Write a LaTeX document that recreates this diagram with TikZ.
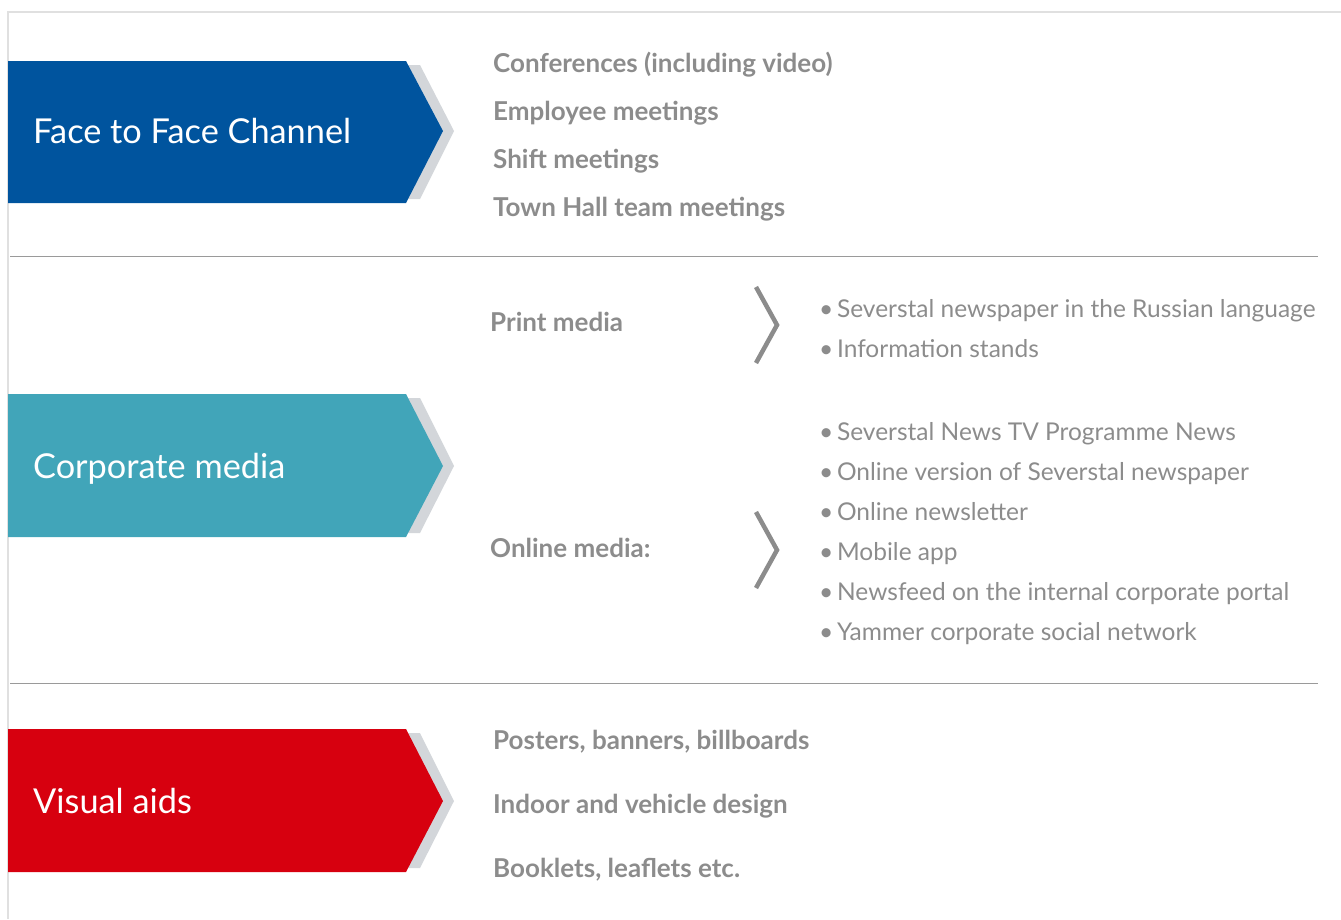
\documentclass[tikz,border=0pt]{standalone}
\usepackage{fontspec}
\setmainfont{Lato}
\definecolor{ffblue}{HTML}{00549E}
\definecolor{cmteal}{HTML}{41A5B9}
\definecolor{vared}{HTML}{D7000F}
\definecolor{shadowgrey}{HTML}{D3D6DA}
\definecolor{txtgrey}{HTML}{8C8C8C}
\definecolor{framegrey}{HTML}{E0E0E0}
\definecolor{divgrey}{HTML}{9A9A9A}
\tikzset{
  boxtext/.style={anchor=base west, inner sep=0pt, text=white, font=\fontsize{34.3}{38}\selectfont},
  itemtext/.style={anchor=base west, inner sep=0pt, text=txtgrey, font=\fontsize{26}{30}\selectfont\bfseries},
  bullettext/.style={anchor=base west, inner sep=0pt, text=txtgrey, font=\fontsize{24.5}{28}\selectfont},
  chev/.style={draw=txtgrey, line width=4.5pt, line join=miter},
  divider/.style={draw=divgrey, line width=1pt},
  framel/.style={draw=framegrey, line width=1.5pt}
}
\begin{document}
\begin{tikzpicture}[x=1pt,y=-1pt]
\useasboundingbox (0,0) rectangle (1341,919);
% frame
\draw[framel] (8,919) -- (8,12) -- (1341,12);
\draw[divider] (10,256) -- (1318,256);
\draw[divider] (10,683) -- (1318,683);
% arrows: shadows then boxes
\foreach \c/\yt/\ym/\yb in {ffblue/61/131/203, cmteal/394/466/537, vared/729/801/872}{
  \fill[fill=shadowgrey] (398,\yt+4) -- (420,\yt+4) -- (454,\ym) -- (420,\yb-4) -- (398,\yb-4) -- cycle;
  \fill[fill=\c] (8,\yt) -- (406,\yt) -- (443,\ym) -- (406,\yb) -- (8,\yb) -- cycle;
}
\node[boxtext] (ff) at (33,143) {Face to Face Channel};
\node[boxtext] (cm) at (33,478) {Corporate media};
\node[boxtext] (va) at (33,813) {Visual aids};
% face to face items
\node[itemtext] (f1) at (493,72) {Conferences (including video)};
\node[itemtext] (f2) at (493,120) {Employee meetings};
\node[itemtext] (f3) at (493,168) {Shift meetings};
\node[itemtext] (f4) at (493,216) {Town Hall team meetings};
% corporate media
\node[itemtext] (pm) at (490,331) {Print media};
\node[itemtext] (om) at (490,557) {Online media:};
\draw[chev] (756,287) -- (777,325) -- (756,363);
\draw[chev] (756,512) -- (777,550) -- (756,588);
\node[bullettext] (p1) at (819,317) {•\hspace{0.15em}Severstal newspaper in the Russian language};
\node[bullettext] (p2) at (819,357) {•\hspace{0.15em}Information stands};
\node[bullettext] (o1) at (819,440) {•\hspace{0.15em}Severstal News TV Programme News};
\node[bullettext] (o2) at (819,480) {•\hspace{0.15em}Online version of Severstal newspaper};
\node[bullettext] (o3) at (819,520) {•\hspace{0.15em}Online newsletter};
\node[bullettext] (o4) at (819,560) {•\hspace{0.15em}Mobile app};
\node[bullettext] (o5) at (819,600) {•\hspace{0.15em}Newsfeed on the internal corporate portal};
\node[bullettext] (o6) at (819,640) {•\hspace{0.15em}Yammer corporate social network};
% visual aids
\node[itemtext] (v1) at (493,749) {Posters, banners, billboards};
\node[itemtext] (v2) at (493,813) {Indoor and vehicle design};
\node[itemtext] (v3) at (493,877) {Booklets, leaflets etc.};
\end{tikzpicture}
\end{document}
